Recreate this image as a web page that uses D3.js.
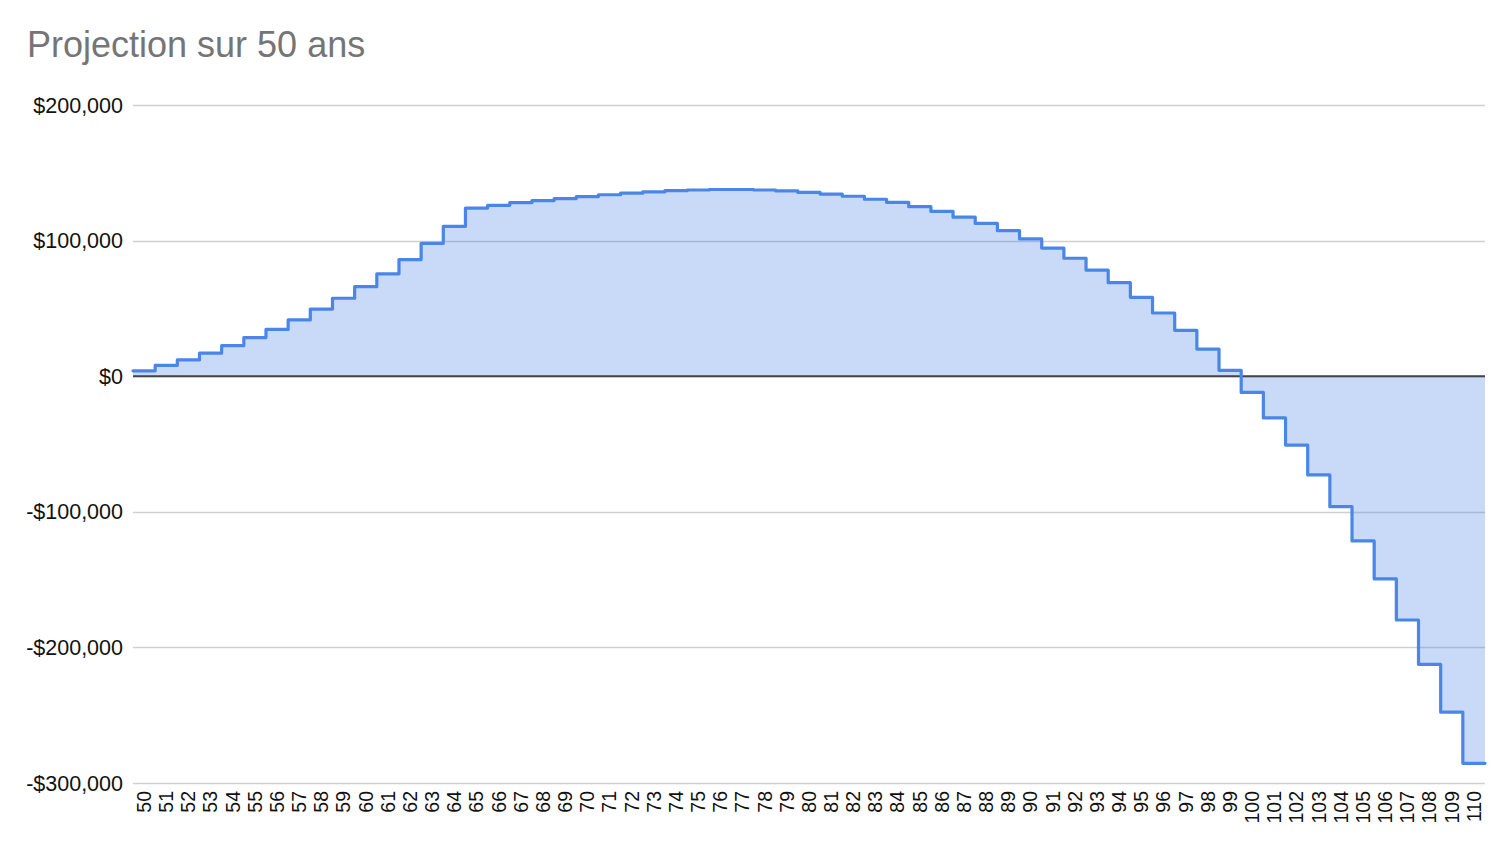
<!DOCTYPE html>
<html>
<head>
<meta charset="utf-8">
<script src="https://cdn.jsdelivr.net/npm/d3@7"></script>
<style>
  body { margin: 0; background: #fff; }
  svg { display: block; font-family: "Liberation Sans", Arial, sans-serif; }
</style>
</head>
<body>
<div id="chart"></div>
<script>
// ages 50 -> 110
const ages = d3.range(50, 111)
// projected balance per age ($)
const balance = [
  4000, 8000, 12000, 17000, 22500, 28500, 34500, 41500, 49500, 57500,
  66000, 75500, 86000, 98000, 110500, 124000, 126000, 128000, 129500, 131000,
  132500, 133800, 135000, 136000, 136800, 137300, 137700, 137700, 137300, 136600,
  135500, 134300, 132700, 130500, 128200, 125000, 121500, 117300, 112700, 107300,
  101200, 94500, 87000, 78200, 69000, 58200, 46600, 33800, 20000, 4300,
  -12000, -30800, -50800, -72800, -96200, -121500, -149500, -179800, -212500, -247800,
  -285500
]
const yTicks = [200000, 100000, 0, -100000, -200000, -300000]
const title = 'Projection sur 50 ans'

const width = 1506, height = 858
const margin = { top: 105, right: 21, bottom: 75, left: 133 }

const svg = d3.select('#chart').append('svg')
              .attr('width', width)
              .attr('height', height)

const x = d3.scaleBand()
            .domain(ages)
            .range([margin.left, width - margin.right])
            .padding(0)

const y = d3.scaleLinear()
            .domain([-300000, 200000])
            .range([height - margin.bottom, margin.top])

const fmt = (v) => (v < 0 ? '-' : '') + '$' + d3.format(',')(Math.abs(v))

// title
svg.append('text')
   .attr('x', 27)
   .attr('y', 57)
   .attr('font-size', 36)
   .attr('fill', '#757575')
   .text(title)

// gridlines + y labels
const grid = svg.append('g')
grid.selectAll('line')
    .data(yTicks)
    .join('line')
    .attr('x1', margin.left)
    .attr('x2', width - margin.right)
    .attr('y1', (d) => Math.round(y(d)) + 0.5)
    .attr('y2', (d) => Math.round(y(d)) + 0.5)
    .attr('stroke', '#d0d0d0')
    .attr('stroke-width', 1.5)

svg.append('g')
   .selectAll('text')
   .data(yTicks)
   .join('text')
   .attr('x', 123)
   .attr('y', (d) => y(d))
   .attr('dy', '0.35em')
   .attr('text-anchor', 'end')
   .attr('font-size', 21.5)
   .attr('fill', '#111')
   .text(fmt)

// step points: one per band start, plus the right edge
const pts = balance.map((v, i) => [x(ages[i]), v])
pts.push([x(ages[ages.length - 1]) + x.bandwidth(), balance[balance.length - 1]])

const area = d3.area()
               .x((d) => d[0])
               .y0(y(0))
               .y1((d) => y(d[1]))
               .curve(d3.curveStepAfter)

const line = d3.line()
               .x((d) => d[0])
               .y((d) => y(d[1]))
               .curve(d3.curveStepAfter)

svg.append('path')
   .datum(pts)
   .attr('d', area)
   .attr('fill', '#4a86e8')
   .attr('fill-opacity', 0.3)

// zero baseline
svg.append('line')
   .attr('x1', margin.left)
   .attr('x2', width - margin.right)
   .attr('y1', y(0))
   .attr('y2', y(0))
   .attr('stroke', '#444')
   .attr('stroke-width', 2)

svg.append('path')
   .datum(pts)
   .attr('d', line)
   .attr('fill', 'none')
   .attr('stroke', '#4a86e8')
   .attr('stroke-width', 3.2)
   .attr('stroke-linejoin', 'round')
   .attr('stroke-linecap', 'round')

// x labels, rotated
svg.append('g')
   .selectAll('text')
   .data(ages)
   .join('text')
   .attr('transform', (d) => `translate(${x(d) + x.bandwidth() / 2},791) rotate(-90)`)
   .attr('dy', '0.35em')
   .attr('text-anchor', 'end')
   .attr('font-size', 19.5)
   .attr('fill', '#111')
   .text((d) => d)
</script>
</body>
</html>
